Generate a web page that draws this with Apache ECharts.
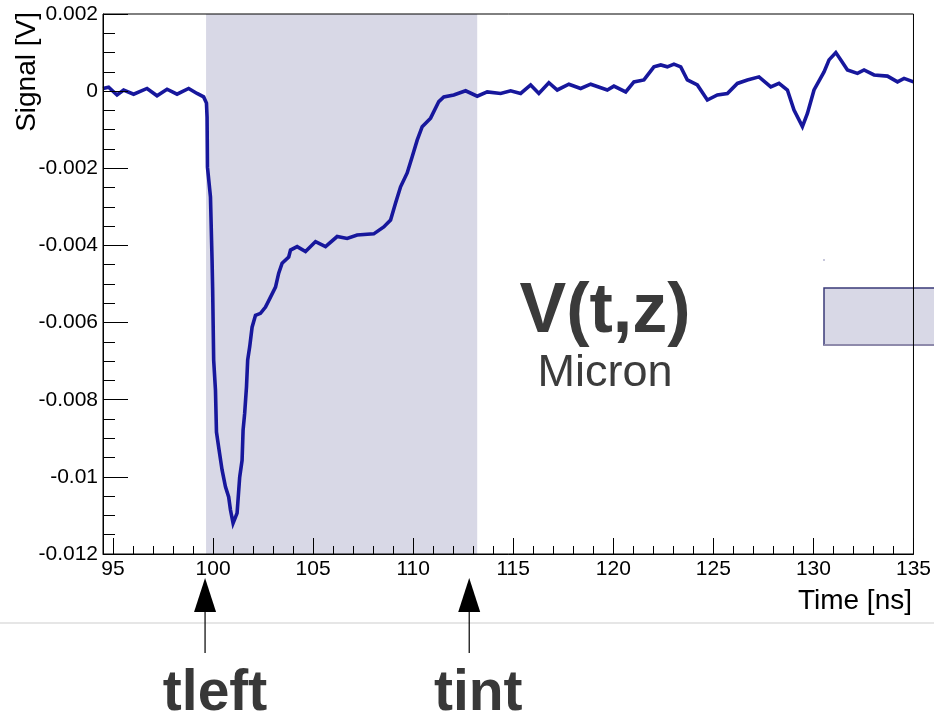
<!DOCTYPE html>
<html>
<head>
<meta charset="utf-8">
<script src="https://cdn.jsdelivr.net/npm/echarts@6/dist/echarts.min.js"></script>
<style>
  html, body { margin: 0; padding: 0; background: #fff; }
  #chart { width: 934px; height: 720px; }
</style>
</head>
<body>
<div id="chart"></div>
<script>
// Sampled waveform: time in ns, signal in V
const timeNs = [94.5, 94.78, 95.2, 95.53, 96.03, 96.7, 97.2, 97.7, 98.2, 98.78, 99.2, 99.53, 99.67, 99.7, 99.72, 99.87, 99.95, 99.98, 100.03, 100.12, 100.17, 100.28, 100.45, 100.62, 100.78, 100.87, 101.0, 101.2, 101.33, 101.45, 101.5, 101.58, 101.67, 101.73, 101.83, 101.95, 102.12, 102.37, 102.62, 102.87, 103.12, 103.28, 103.45, 103.78, 103.87, 104.2, 104.62, 105.12, 105.62, 106.2, 106.7, 107.2, 108.03, 108.53, 108.87, 109.12, 109.37, 109.7, 109.95, 110.2, 110.45, 110.87, 111.28, 111.53, 112.03, 112.62, 113.2, 113.7, 114.37, 114.87, 115.37, 115.87, 116.28, 116.78, 117.2, 117.78, 118.37, 118.87, 119.7, 120.03, 120.62, 121.03, 121.53, 122.03, 122.37, 122.7, 123.03, 123.37, 123.7, 124.2, 124.7, 125.2, 125.7, 126.2, 126.7, 127.28, 127.87, 128.28, 128.7, 129.03, 129.45, 129.7, 130.03, 130.53, 130.78, 131.12, 131.37, 131.7, 132.2, 132.53, 133.03, 133.7, 134.2, 134.53, 135.0];
const signalV = [0.00007, 0.0001, -0.0001, 0.00003, -0.00008, 0.00007, -0.00012, 0.00005, -0.00008, 0.00007, -0.00006, -0.00015, -0.00031, -0.00067, -0.00197, -0.00274, -0.00438, -0.00516, -0.00697, -0.00775, -0.00884, -0.00923, -0.00982, -0.01026, -0.01052, -0.01086, -0.0112, -0.01094, -0.01001, -0.00957, -0.00879, -0.00835, -0.00767, -0.00697, -0.00663, -0.00612, -0.00581, -0.00576, -0.0056, -0.00534, -0.00508, -0.00472, -0.00446, -0.0043, -0.00412, -0.00403, -0.00416, -0.0039, -0.00403, -0.00377, -0.00382, -0.00373, -0.0037, -0.00352, -0.00334, -0.0029, -0.00248, -0.00212, -0.0017, -0.00127, -0.00092, -0.0007, -0.00027, -0.00015, -0.0001, 0.00001, -0.00013, -0.00002, -0.00006, 0.00001, -0.00006, 0.00016, -0.00006, 0.00022, 0.00003, 0.00018, 0.00007, 0.00018, 0.00003, 0.00013, -0.00002, 0.00024, 0.00029, 0.00063, 0.00068, 0.00063, 0.0007, 0.00063, 0.00029, 0.00016, -0.00023, -0.0001, -0.00006, 0.0002, 0.00029, 0.00037, 0.00011, 0.0002, 0.00003, -0.00049, -0.00092, -0.00058, 0.00003, 0.0005, 0.00081, 0.001, 0.00081, 0.00055, 0.00046, 0.00055, 0.00042, 0.00039, 0.00024, 0.00033, 0.00024];

// Integration window (shaded band) and marker positions
const integrationWindow = [99.65, 113.2];
const markerTimes = [99.6, 112.8];
const markerNames = ['tleft', 'tint'];

// Axis ticks
const xMajorTicks = [95, 100, 105, 110, 115, 120, 125, 130, 135];
const xMinorTicks = [];
for (let t = 95; t <= 135; t += 1) if (t % 5 !== 0) xMinorTicks.push(t);

const FONT = "'Liberation Sans', Arial, Helvetica, sans-serif";
const chart = echarts.init(document.getElementById('chart'), null, { renderer: 'canvas' });

const points = timeNs.map((t, i) => [t, signalV[i]]);

chart.setOption({
  animation: false,
  backgroundColor: '#ffffff',
  grid: {
    left: 103, right: 20, top: 14, bottom: 166,
    show: true, borderColor: '#000', borderWidth: 1,
    backgroundColor: 'transparent', z: 5
  },
  xAxis: [{
    type: 'value', min: 94.5, max: 135, z: 5,
    axisLine: { show: true, onZero: false, lineStyle: { color: '#000', width: 1 } },
    axisTick: { show: true, inside: true, length: 16, customValues: xMajorTicks, lineStyle: { color: '#000' } },
    axisLabel: { customValues: xMajorTicks, color: '#000', fontSize: 21, fontFamily: FONT, margin: 5 },
    splitLine: { show: false }
  }, {
    type: 'value', min: 94.5, max: 135, position: 'bottom', z: 5,
    axisLine: { show: false, onZero: false },
    axisTick: { show: true, inside: true, length: 8, customValues: xMinorTicks, lineStyle: { color: '#000' } },
    axisLabel: { show: false },
    splitLine: { show: false }
  }],
  yAxis: {
    type: 'value', min: -0.012, max: 0.002, interval: 0.002, z: 5,
    axisLine: { show: true, onZero: false, lineStyle: { color: '#000', width: 1 } },
    axisTick: { show: true, inside: true, length: 25, lineStyle: { color: '#000' } },
    minorTick: { show: true, splitNumber: 4, length: 12, lineStyle: { color: '#000' } },
    axisLabel: {
      color: '#000', fontSize: 21, fontFamily: FONT, margin: 5,
      showMinLabel: true, showMaxLabel: true,
      formatter: v => String(+v.toFixed(3))
    },
    splitLine: { show: false }
  },
  series: [{
    type: 'line',
    xAxisIndex: 0,
    data: points,
    showSymbol: false,
    smooth: false,
    lineStyle: { color: '#17179c', width: 3.6, join: 'miter' },
    markArea: {
      silent: true,
      itemStyle: { color: '#d8d8e6', opacity: 1 },
      data: [[{ xAxis: integrationWindow[0] }, { xAxis: integrationWindow[1] }]]
    },
    z: 3
  }]
});

// Annotation overlay: axis titles, labels, inset box and time markers
const g = [];
g.push({
  type: 'text', x: 27, y: 12, rotation: Math.PI / 2, z: 10,
  style: { text: 'Signal [V]', font: `28px ${FONT}`, fill: '#000', textAlign: 'right', textVerticalAlign: 'middle' }
});
g.push({
  type: 'text', x: 912, y: 601, z: 10,
  style: { text: 'Time [ns]', font: `28px ${FONT}`, fill: '#000', textAlign: 'right', textVerticalAlign: 'middle' }
});
g.push({
  type: 'text', x: 605, y: 313, z: 10,
  style: { text: 'V(t,z)', font: `bold 70px ${FONT}`, fill: '#3a3a3a', textAlign: 'center', textVerticalAlign: 'middle' }
});
g.push({
  type: 'text', x: 605, y: 374, z: 10,
  style: { text: 'Micron', font: `45px ${FONT}`, fill: '#3c3c3c', textAlign: 'center', textVerticalAlign: 'middle' }
});
g.push({
  type: 'rect', z: -1, shape: { x: 824, y: 288, width: 120, height: 57 },
  style: { fill: '#d8d8e6', stroke: '#3a3a78', lineWidth: 1.5 }
});
g.push({
  type: 'line', z: -1, shape: { x1: 824, y1: 345, x2: 934, y2: 345 },
  style: { stroke: '#8e8aab', lineWidth: 2 }
});
g.push({
  type: 'rect', z: -1, shape: { x: 823, y: 259, width: 2, height: 2 },
  style: { fill: '#c8c8dc' }
});
g.push({
  type: 'line', z: 10, shape: { x1: 0, y1: 623, x2: 934, y2: 623 },
  style: { stroke: '#e6e6e6', lineWidth: 2 }
});
markerTimes.forEach((t, i) => {
  const px = chart.convertToPixel({ xAxisIndex: 0 }, t);
  g.push({
    type: 'polygon', z: 10,
    shape: { points: [[px, 578], [px - 11, 612], [px + 11, 612]] },
    style: { fill: '#000' }
  });
  g.push({
    type: 'line', z: 10, shape: { x1: px, y1: 611, x2: px, y2: 653 },
    style: { stroke: '#000', lineWidth: 1.2 }
  });
  g.push({
    type: 'text', x: px + (i === 0 ? 10 : 9), y: 694, z: 10,
    style: { text: markerNames[i], font: `bold 57px ${FONT}`, fill: '#383838', textAlign: 'center', textVerticalAlign: 'middle' }
  });
});
chart.setOption({ graphic: { elements: g } });
</script>
</body>
</html>
